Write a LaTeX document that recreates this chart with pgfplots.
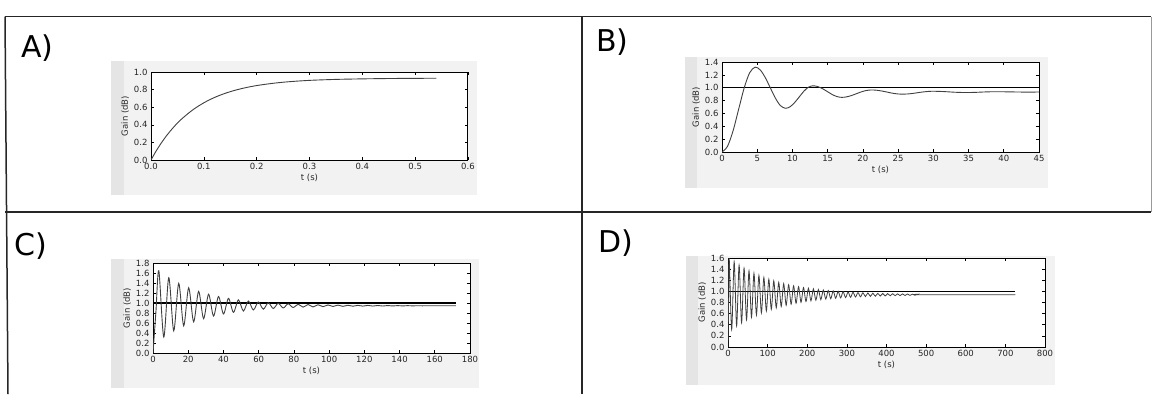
\documentclass[border=0pt]{standalone}
\usepackage{fontspec}
\setmainfont{DejaVu Sans}
\usepackage{pgfplots}
\pgfplotsset{compat=1.18}

\pgfplotsset{
  gainplot/.style={
    scale only axis, width=317pt, height=89pt, anchor=north west,
    axis background/.style={fill=white},
    axis line style={line width=1pt, black},
    tick align=inside, major tick length=3pt,
    tick style={black, line width=0.6pt},
    tick label style={font=\fontsize{8.5}{9}\selectfont, black!85},
    label style={font=\fontsize{8.5}{9}\selectfont, black!85},
    /pgf/number format/assume math mode=true,
    ylabel={Gain (dB)}, xlabel={t (s)},
    ylabel style={yshift=-2pt},
    xlabel style={yshift=3pt},
    y tick label style={/pgf/number format/.cd, fixed, fixed zerofill, precision=1},
    ymin=0, xmin=0,
  },
  resp/.style={black!75, line width=0.9pt, smooth, no marks},
  stepl/.style={black, line width=1.2pt, no marks},
}

\begin{document}
\begin{tikzpicture}
\useasboundingbox (0pt,0pt) rectangle (1153pt,-394pt);

% scanned figure backgrounds
\fill[black!5] (111pt,-61pt) rectangle (477pt,-195pt);
\fill[black!10] (111pt,-61pt) rectangle (124pt,-195pt);
\fill[black!5] (685pt,-57pt) rectangle (1048pt,-188pt);
\fill[black!10] (685pt,-57pt) rectangle (697pt,-188pt);
\fill[black!5] (111pt,-259pt) rectangle (479pt,-388pt);
\fill[black!10] (111pt,-259pt) rectangle (124pt,-388pt);
\fill[black!5] (686pt,-256pt) rectangle (1055pt,-385pt);
\fill[black!10] (686pt,-256pt) rectangle (698pt,-385pt);

% table grid
\draw[black!85, line width=1.5pt] (5pt,-16.5pt) -- (1151pt,-16.5pt);
\draw[black!85, line width=1.5pt] (5pt,-212pt) -- (1151pt,-212pt);
\draw[black!85, line width=1.5pt] (5pt,-16.5pt) -- (8pt,-394pt);
\draw[black!85, line width=1.5pt] (582pt,-16.5pt) -- (582pt,-394pt);
\draw[black!40, line width=1pt] (1151pt,-16.5pt) -- (1151pt,-212pt);

% panel letters
\node[anchor=base west, inner sep=0pt, font=\fontsize{30}{32}\selectfont] at (21pt,-57pt) {A)};
\node[anchor=base west, inner sep=0pt, font=\fontsize{30}{32}\selectfont] at (596pt,-51pt) {B)};
\node[anchor=base west, inner sep=0pt, font=\fontsize{30}{32}\selectfont] at (14pt,-255pt) {C)};
\node[anchor=base west, inner sep=0pt, font=\fontsize{30}{32}\selectfont] at (598pt,-252pt) {D)};

% ---------- A ----------
\begin{axis}[gainplot, at={(151pt,-72pt)}, height=88pt,
  xmax=0.6, ymax=1.0,
  xtick={0,0.1,0.2,0.3,0.4,0.5,0.6},
  ytick={0,0.2,0.4,0.6,0.8,1.0},
  x tick label style={/pgf/number format/.cd, fixed, fixed zerofill, precision=1}]
\addplot[stepl] coordinates {(0,1.0) (0.54,1.0)};
\addplot[resp] coordinates {
(0,0) (0.01,0.105) (0.02,0.198) (0.03,0.281) (0.04,0.354) (0.05,0.420)
(0.06,0.477) (0.08,0.574) (0.10,0.650) (0.12,0.710) (0.14,0.757)
(0.16,0.794) (0.18,0.823) (0.20,0.846) (0.23,0.871) (0.26,0.889)
(0.30,0.905) (0.35,0.916) (0.40,0.922) (0.45,0.926) (0.50,0.928) (0.54,0.929)};
\end{axis}

% ---------- B ----------
\begin{axis}[gainplot, at={(722pt,-62pt)}, height=90pt,
  xmax=45, ymax=1.4,
  xtick={0,5,10,15,20,25,30,35,40,45},
  ytick={0,0.2,0.4,0.6,0.8,1.0,1.2,1.4}]
\addplot[stepl] coordinates {(0,1.0) (45,1.0)};
\addplot[resp] coordinates {
(0,0) (0.78,0.088) (1.57,0.33) (2.35,0.66) (3.13,0.99) (3.92,1.232) (4.7,1.32)
(5.42,1.277) (6.13,1.16) (6.85,1.0) (7.57,0.84) (8.28,0.723) (9.0,0.68)
(9.65,0.703) (10.3,0.768) (10.95,0.855) (11.6,0.943) (12.25,1.007) (12.9,1.03)
(13.58,1.018) (14.27,0.985) (14.95,0.94) (15.63,0.895) (16.32,0.862) (17.0,0.85)
(17.7,0.858) (18.4,0.879) (19.1,0.908) (19.8,0.936) (20.5,0.957) (21.2,0.965)
(21.93,0.961) (22.67,0.949) (23.4,0.933) (24.13,0.916) (24.87,0.904) (25.6,0.90)
(26.33,0.903) (27.07,0.911) (27.8,0.923) (28.53,0.934) (29.27,0.942) (30,0.945)
(31.5,0.94) (33,0.93) (34.5,0.925) (36,0.928) (37.5,0.935) (39,0.938)
(41,0.935) (43,0.932) (45,0.933)};
\end{axis}

% ---------- C ----------
\begin{axis}[gainplot, at={(153pt,-263pt)}, height=90pt,
  xmax=180, ymax=1.8,
  xtick={0,20,40,60,80,100,120,140,160,180},
  ytick={0,0.2,0.4,0.6,0.8,1.0,1.2,1.4,1.6,1.8}]
\addplot[stepl] coordinates {(0,1.0) (172,1.0)};
\addplot[resp] coordinates {
(0,0) (1.65,0.82) (3.3,1.645) (6.125,0.318) (8.95,1.506) (11.775,0.443)
(14.6,1.394) (17.425,0.543) (20.25,1.305) (23.075,0.623) (25.9,1.233)
(28.725,0.687) (31.55,1.176) (34.375,0.739) (37.2,1.130) (40.025,0.780)
(42.85,1.093) (45.675,0.813) (48.5,1.063) (51.325,0.839) (54.15,1.040)
(56.975,0.860) (59.8,1.021) (62.625,0.877) (65.45,1.006) (68.275,0.890)
(71.1,0.994) (73.925,0.901) (76.75,0.984) (79.575,0.910) (82.4,0.976)
(85.225,0.917) (88.05,0.970) (90.875,0.922) (93.7,0.965) (96.525,0.927)
(99.35,0.961) (102.175,0.931) (105.0,0.958) (107.825,0.933) (110.65,0.955)
(113.475,0.936) (116.3,0.953) (119.125,0.938) (121.95,0.952) (124.775,0.939)
(127.6,0.950) (130.425,0.940) (133.25,0.949) (136.075,0.941) (138.9,0.948)
(141.725,0.942) (144.55,0.947) (147.375,0.943) (150.2,0.946) (153.0,0.944)
(156,0.945) (172,0.945)};
\end{axis}

% ---------- D ----------
\begin{axis}[gainplot, at={(728pt,-258pt)}, height=89pt,
  xmax=800, ymax=1.6,
  xtick={0,100,200,300,400,500,600,700,800},
  ytick={0,0.2,0.4,0.6,0.8,1.0,1.2,1.4,1.6}]
\addplot[stepl] coordinates {(0,1.0) (725,1.0)};
\addplot[resp, line width=0.8pt] coordinates {
(0,0) (1.5,0.8) (3,1.603) (9.25,0.313) (15.5,1.534) (21.75,0.377) (28,1.473)
(34.25,0.435) (40.5,1.418) (46.75,0.487) (53,1.369) (59.25,0.534) (65.5,1.325)
(71.75,0.576) (78,1.285) (84.25,0.613) (90.5,1.250) (96.75,0.647) (103,1.218)
(109.25,0.677) (115.5,1.189) (121.75,0.704) (128,1.163) (134.25,0.728)
(140.5,1.140) (146.75,0.750) (153,1.120) (159.25,0.770) (165.5,1.101)
(171.75,0.787) (178,1.085) (184.25,0.803) (190.5,1.070) (196.75,0.817)
(203,1.056) (209.25,0.830) (215.5,1.044) (221.75,0.841) (228,1.034)
(234.25,0.851) (240.5,1.024) (246.75,0.861) (253,1.015) (259.25,0.869)
(265.5,1.008) (271.75,0.876) (278,1.001) (284.25,0.883) (290.5,0.994)
(296.75,0.889) (303,0.989) (309.25,0.894) (315.5,0.984) (321.75,0.899)
(328,0.979) (334.25,0.903) (340.5,0.975) (346.75,0.907) (353,0.972)
(359.25,0.910) (365.5,0.968) (371.75,0.913) (378,0.965) (384.25,0.916)
(390.5,0.963) (396.75,0.918) (403,0.960) (409.25,0.921) (415.5,0.958)
(421.75,0.923) (428,0.956) (434.25,0.924) (440.5,0.955) (446.75,0.926)
(453,0.953) (459.25,0.928) (465.5,0.951) (471.75,0.930) (478,0.949)
(490,0.940) (725,0.940)};
\end{axis}
\end{tikzpicture}
\end{document}
